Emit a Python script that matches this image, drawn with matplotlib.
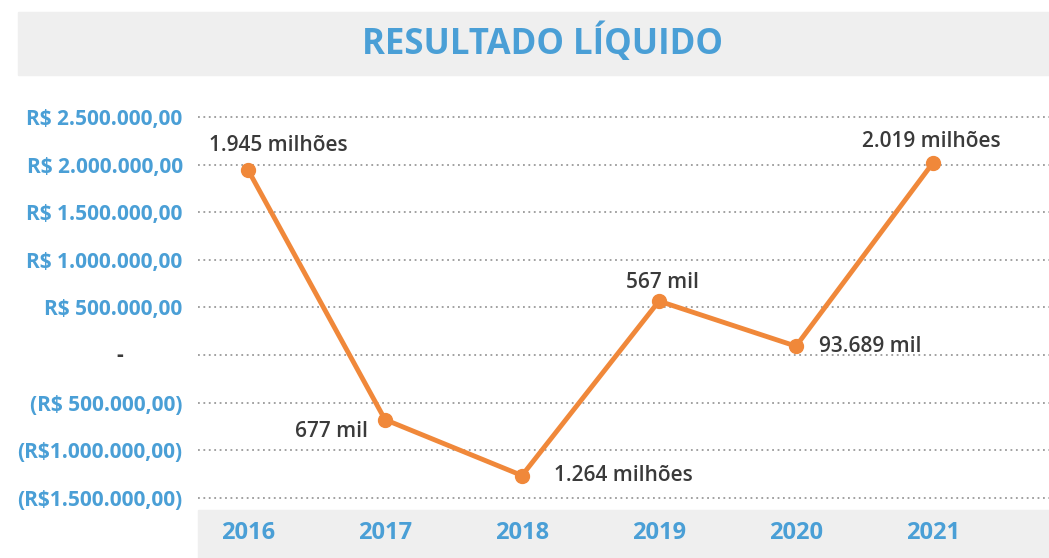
import numpy as np
import matplotlib.pyplot as plt
from matplotlib.patches import Rectangle
from matplotlib import transforms

plt.rcParams['font.family'] = ['Open Sans', 'DejaVu Sans']

years = ["2016", "2017", "2018", "2019", "2020", "2021"]
resultado = [1945000, -677000, -1264000, 567000, 93689, 2019000]
rotulos = ["1.945 milhões", "677 mil", "1.264 milhões", "567 mil", "93.689 mil", "2.019 milhões"]
y_ticks = [2500000, 2000000, 1500000, 1000000, 500000, 0, -500000, -1000000, -1500000]
y_labels = ["R$ 2.500.000,00", "R$ 2.000.000,00", "R$ 1.500.000,00", "R$ 1.000.000,00",
            "R$ 500.000,00", "", "(R$ 500.000,00)", "(R$1.000.000,00)", "(R$1.500.000,00)"]

blue = "#4a9fd6"
orange = "#f0883a"
dark = "#3a3a3a"
W, H = 1049, 558

fig = plt.figure(figsize=(W / 100, H / 100), dpi=100)

# title banner and x band
fig.patches.append(Rectangle((18 / W, 1 - 75 / H), 1 - 18 / W, 63 / H, transform=fig.transFigure,
                             color="#efefef", zorder=-1))
fig.patches.append(Rectangle((198 / W, 0), 1 - 198 / W, 48 / H, transform=fig.transFigure,
                             color="#efefef", zorder=-1))
fig.text(543 / W, 1 - 43 / H, "RESULTADO LÍQUIDO", ha="center", va="center",
         fontsize=25, fontweight="bold", color=blue)

ax = fig.add_axes([198 / W, 48 / H, 1 - 198 / W, (510 - 100) / H])
ax.patch.set_alpha(0)
x = np.arange(len(years))
ax.plot(x, resultado, color=orange, lw=3.5, marker="o", ms=10, zorder=3)

ax.set_xlim(-50 / 137, (1049 - 248) / 137)
ax.set_ylim(-1626000, 2678000)
ax.set_yticks(y_ticks)
ax.set_yticklabels(y_labels, fontsize=15, fontweight="bold", color=blue)
ax.set_xticks(x)
ax.set_xticklabels(years, fontsize=17, fontweight="bold", color=blue)
ax.tick_params(axis="y", length=0, pad=11)
ax.tick_params(axis="x", length=0, pad=8)
for s in ax.spines.values():
    s.set_visible(False)
ax.grid(axis="y", color="#9a9a9a", linestyle=(0, (1, 2)), lw=1.3)
ax.set_axisbelow(True)

# zero label in accounting style
trans = transforms.blended_transform_factory(fig.transFigure, ax.transData)
ax.text(120 / W, 0, "-", transform=trans, ha="center", va="center", fontsize=15,
        fontweight="bold", color=dark)

# data labels
offsets = [(30, 24, "center"), (-54, -12, "center"), (32, 0, "left"),
           (3, 19, "center"), (23, 0, "left"), (-2, 21, "center")]
for i, (val, txt) in enumerate(zip(resultado, rotulos)):
    dx, dy, ha = offsets[i]
    ax.annotate(txt, (i, val), xytext=(dx, dy), textcoords="offset pixels",
                ha=ha, va="center", fontsize=15, fontweight="semibold", color=dark)

fig.savefig("out.png", dpi=100)
